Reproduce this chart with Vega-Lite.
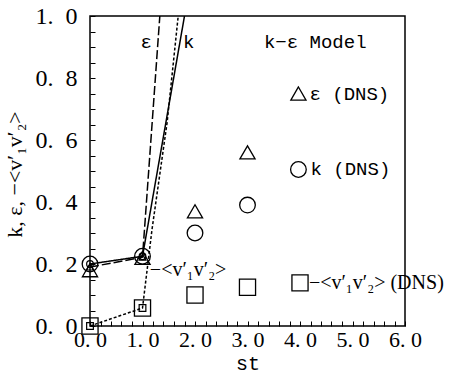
{
  "$schema": "https://vega.github.io/schema/vega-lite/v6.json",
  "width": 315,
  "height": 310,
  "autosize": "none",
  "padding": {"left": 90, "top": 16, "right": 44, "bottom": 51},
  "background": "white",
  "config": {
    "view": {"stroke": "black", "strokeWidth": 1.5},
    "font": "Liberation Serif",
    "axis": {"labelOverlap": false, "labelFlush": false, "labelBound": false}
  },
  "datasets": {
    "model": [
      {"series": "k", "st": 0, "v": 0.2},
      {"series": "k", "st": 1, "v": 0.225},
      {"series": "k", "st": 1.8, "v": 1.0},
      {"series": "eps", "st": 0, "v": 0.19},
      {"series": "eps", "st": 1, "v": 0.222},
      {"series": "eps", "st": 1.33, "v": 1.0},
      {"series": "uv", "st": 0, "v": 0.0},
      {"series": "uv", "st": 1, "v": 0.058},
      {"series": "uv", "st": 1.18, "v": 0.31},
      {"series": "uv", "st": 1.47, "v": 0.658},
      {"series": "uv", "st": 1.68, "v": 1.0}
    ],
    "dns": [
      {"series": "eps", "st": 0, "v": 0.18},
      {"series": "eps", "st": 1, "v": 0.22},
      {"series": "eps", "st": 2, "v": 0.37},
      {"series": "eps", "st": 3, "v": 0.56},
      {"series": "k", "st": 0, "v": 0.2},
      {"series": "k", "st": 1, "v": 0.225},
      {"series": "k", "st": 2, "v": 0.3},
      {"series": "k", "st": 3, "v": 0.39},
      {"series": "uv", "st": 0, "v": 0.0},
      {"series": "uv", "st": 1, "v": 0.058},
      {"series": "uv", "st": 2, "v": 0.1},
      {"series": "uv", "st": 3, "v": 0.125}
    ],
    "keysym": [
      {"series": "eps", "st": 3.97, "v": 0.75},
      {"series": "k", "st": 3.97, "v": 0.505},
      {"series": "uv", "st": 4.0, "v": 0.139}
    ],
    "labelsC": [
      {"txt": "ε", "st": 1.07, "v": 0.916},
      {"txt": "k", "st": 1.88, "v": 0.916},
      {"txt": "k−ε Model", "st": 4.29, "v": 0.916}
    ],
    "labelsL": [
      {"txt": "ε (DNS)", "st": 4.18, "v": 0.75},
      {"txt": "k (DNS)", "st": 4.2, "v": 0.505}
    ],
    "labelsS": [
      {"txt": "−<v′₁v′₂> (DNS)", "st": 4.17, "v": 0.139},
      {"txt": "−<v′₁v′₂>", "st": 1.14, "v": 0.18}
    ]
  },
  "encoding": {
    "x": {
      "field": "st", "type": "quantitative",
      "scale": {"domain": [0, 6], "nice": false, "zero": false},
      "axis": {
        "title": "st", "titleFontSize": 20, "titleFontWeight": "normal", "titlePadding": 3,
        "titleFont": "Liberation Mono",
        "values": [0,0.2,0.4,0.6,0.8,1,1.2,1.4,1.6,1.8,2,2.2,2.4,2.6,2.8,3,3.2,3.4,3.6,3.8,4,4.2,4.4,4.6,4.8,5,5.2,5.4,5.6,5.8,6],
        "labelExpr": "abs(datum.value - round(datum.value)) < 0.001 ? replace(format(datum.value, '.1f'), '.', '. ') : ''",
        "labelFontSize": 22, "labelColor": "black", "labelPadding": 8,
        "tickSize": -5, "tickColor": "black", "domain": false, "grid": false
      }
    },
    "y": {
      "field": "v", "type": "quantitative",
      "scale": {"domain": [0, 1], "nice": false},
      "axis": {
        "title": "k, ε, −<v′₁v′₂>", "titleFontSize": 22, "titleFontWeight": "normal",
        "titleX": -76, "titleY": 158, "titleAngle": -90, "titleBaseline": "middle",
        "values": [0,0.05,0.1,0.15,0.2,0.25,0.3,0.35,0.4,0.45,0.5,0.55,0.6,0.65,0.7,0.75,0.8,0.85,0.9,0.95,1],
        "labelExpr": "abs(datum.value*5 - round(datum.value*5)) < 0.001 ? replace(format(datum.value, '.1f'), '.', '.\u2002') : ''",
        "labelFontSize": 24, "labelColor": "black", "labelPadding": 18,
        "tickSize": -5, "tickColor": "black", "domain": false, "grid": false
      }
    }
  },
  "layer": [
    {
      "data": {"name": "model"},
      "mark": {"type": "line", "color": "black", "clip": true},
      "encoding": {
        "detail": {"field": "series"},
        "strokeDash": {
          "field": "series", "type": "nominal",
          "scale": {"domain": ["k", "eps", "uv"], "range": [[1, 0], [9, 3], [3, 2]]},
          "legend": null
        },
        "strokeWidth": {
          "field": "series", "type": "nominal",
          "scale": {"domain": ["k", "eps", "uv"], "range": [1.5, 1.5, 2]},
          "legend": null
        }
      }
    },
    {
      "data": {"name": "dns"},
      "mark": {"type": "point", "filled": false, "color": "black", "strokeWidth": 1.3, "opacity": 1},
      "encoding": {
        "shape": {
          "field": "series", "type": "nominal",
          "scale": {"domain": ["eps", "k", "uv"], "range": ["triangle-up", "circle", "square"]},
          "legend": null
        },
        "size": {
          "field": "series", "type": "nominal",
          "scale": {"domain": ["eps", "k", "uv"], "range": [230, 260, 300]},
          "legend": null
        }
      }
    },
    {
      "data": {"name": "keysym"},
      "mark": {"type": "point", "filled": false, "color": "black", "strokeWidth": 1.3, "opacity": 1},
      "encoding": {
        "shape": {
          "field": "series", "type": "nominal",
          "scale": {"domain": ["eps", "k", "uv"], "range": ["triangle-up", "circle", "square"]},
          "legend": null
        },
        "size": {
          "field": "series", "type": "nominal",
          "scale": {"domain": ["eps", "k", "uv"], "range": [230, 260, 260]},
          "legend": null
        }
      }
    },
    {
      "data": {"name": "model"},
      "transform": [{"filter": "datum.st <= 1"}],
      "mark": {"type": "point", "filled": false, "color": "black", "strokeWidth": 1.2, "opacity": 1},
      "encoding": {
        "shape": {
          "field": "series", "type": "nominal",
          "scale": {"domain": ["eps", "k", "uv"], "range": ["triangle-up", "circle", "square"]},
          "legend": null
        },
        "size": {"value": 45}
      }
    },
    {
      "data": {"name": "labelsC"},
      "mark": {"type": "text", "fontSize": 19, "font": "Liberation Mono", "color": "black", "baseline": "middle", "align": "center"},
      "encoding": {"text": {"field": "txt"}}
    },
    {
      "data": {"name": "labelsL"},
      "mark": {"type": "text", "fontSize": 19, "font": "Liberation Mono", "color": "black", "baseline": "middle", "align": "left"},
      "encoding": {"text": {"field": "txt"}}
    },
    {
      "data": {"name": "labelsS"},
      "mark": {"type": "text", "fontSize": 20, "font": "Liberation Serif", "color": "black", "baseline": "middle", "align": "left"},
      "encoding": {"text": {"field": "txt"}}
    }
  ]
}
